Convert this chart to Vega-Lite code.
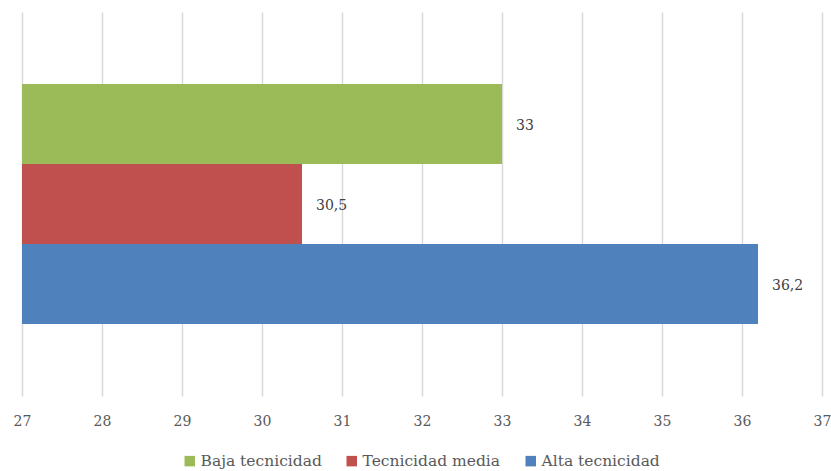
{
  "$schema": "https://vega.github.io/schema/vega-lite/v6.json",
  "width": 800,
  "height": 384,
  "autosize": "none",
  "padding": {"left": 22, "top": 12, "right": 9, "bottom": 75},
  "config": {
    "locale": {"number": {"decimal": ",", "thousands": ".", "grouping": [3], "currency": ["", " €"]}},
    "view": {"stroke": null},
    "font": "DejaVu Serif"
  },
  "data": {
    "values": [
      {"categoria": "Baja tecnicidad", "valor": 33},
      {"categoria": "Tecnicidad media", "valor": 30.5},
      {"categoria": "Alta tecnicidad", "valor": 36.2}
    ]
  },
  "encoding": {
    "y": {
      "field": "categoria",
      "type": "nominal",
      "sort": ["Baja tecnicidad", "Tecnicidad media", "Alta tecnicidad"],
      "scale": {"paddingInner": 0, "paddingOuter": 0.9},
      "axis": null
    }
  },
  "layer": [
    {
      "mark": {"type": "bar", "clip": true},
      "encoding": {
        "x": {
          "field": "valor",
          "type": "quantitative",
          "scale": {"domain": [27, 37], "nice": false, "zero": false},
          "axis": {
            "title": null,
            "values": [27, 28, 29, 30, 31, 32, 33, 34, 35, 36, 37],
            "format": "d",
            "domain": false,
            "ticks": false,
            "grid": true,
            "gridColor": "#d9d9d9",
            "gridWidth": 1.5,
            "labelFont": "DejaVu Serif",
            "labelFontSize": 14,
            "labelColor": "#595959",
            "labelPadding": 18,
            "labelOverlap": false,
            "labelFlush": false,
            "labelBound": false
          }
        },
        "color": {
          "field": "categoria",
          "type": "nominal",
          "sort": ["Baja tecnicidad", "Tecnicidad media", "Alta tecnicidad"],
          "scale": {
            "domain": ["Baja tecnicidad", "Tecnicidad media", "Alta tecnicidad"],
            "range": ["#9BBB59", "#C0504D", "#4F81BD"]
          },
          "legend": {
            "title": null,
            "orient": "none",
            "direction": "horizontal",
            "legendX": 160,
            "legendY": 441,
            "symbolType": "square",
            "symbolSize": 110,
            "symbolStrokeWidth": 0,
            "labelFont": "DejaVu Serif",
            "labelFontSize": 15.5,
            "labelColor": "#595959",
            "labelOffset": 3,
            "columnPadding": 22
          }
        }
      }
    },
    {
      "mark": {"type": "text", "align": "left", "dx": 14, "dy": 2, "fontSize": 14, "color": "#404040", "font": "DejaVu Serif"},
      "encoding": {
        "x": {"field": "valor", "type": "quantitative"},
        "text": {"field": "valor", "type": "quantitative", "format": ".1~f"}
      }
    }
  ]
}
